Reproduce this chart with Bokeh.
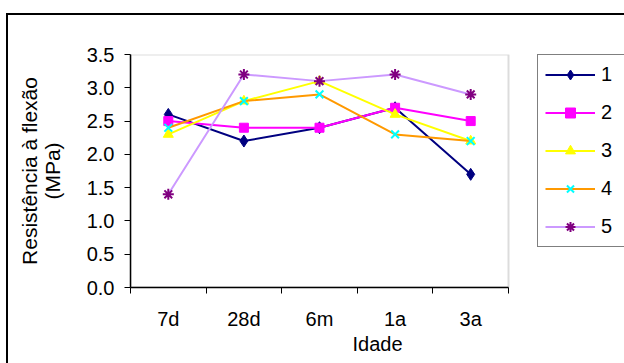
from bokeh.plotting import figure
from bokeh.models import (Range1d, FixedTicker, NumeralTickFormatter, Legend,
                          LegendItem, ColumnDataSource, BoxAnnotation)
from bokeh.embed import file_html
from bokeh.resources import INLINE

# ---- data ----
ages = ["7d", "28d", "6m", "1a", "3a"]
series_names = ["1", "2", "3", "4", "5"]
s1 = [2.6, 2.2, 2.4, 2.7, 1.7]
s2 = [2.5, 2.4, 2.4, 2.7, 2.5]
s3 = [2.3, 2.8, 3.1, 2.6, 2.2]
s4 = [2.4, 2.8, 2.9, 2.3, 2.2]
s5 = [1.4, 3.2, 3.1, 3.2, 2.9]
y_ticks = [0.0, 0.5, 1.0, 1.5, 2.0, 2.5, 3.0, 3.5]
y_max = 3.5

FONT = "Liberation Sans"
FS = "20px"

n = len(ages)
x_centers = [i + 0.5 for i in range(n)]
x_bounds = [float(i) for i in range(n + 1)]

# layout (pixels): plot area 130..508 wide, legend sits right of it
LEFT, TOP, BOTTOM, AREA_W, W, H = 130, 54, 76, 378, 624, 363
FW, FH = W - LEFT, H - TOP - BOTTOM
x_end = n * FW / AREA_W

p = figure(frame_width=FW, frame_height=FH, output_backend="svg",
           toolbar_location=None,
           x_range=Range1d(0, x_end), y_range=Range1d(0, y_max),
           min_border_left=LEFT, min_border_right=0,
           min_border_top=TOP, min_border_bottom=BOTTOM)
p.background_fill_color = "white"
p.border_fill_alpha = 0
p.outline_line_color = None
p.xgrid.visible = False
p.ygrid.visible = False
# outer chart-area border (top and left edges visible in the window)
p.styles = {
    "background": "linear-gradient(#000,#000) 6px 13px / 2px 100% no-repeat, "
                  "linear-gradient(#000,#000) 6px 13px / 100% 2px no-repeat, #fff",
}

# plot-area border (grey, Excel style)
area = BoxAnnotation(left=0, right=n, bottom=0, top=y_max, fill_alpha=0,
                     line_color="#8c8c8c", line_width=2, level="underlay")
p.add_layout(area)

# x axis: ticks at category boundaries, labels at centers
xa = p.xaxis[0]
xa.bounds = (0, n)
xa.ticker = FixedTicker(ticks=x_centers, minor_ticks=x_bounds)
xa.major_label_overrides = {c: a for c, a in zip(x_centers, ages)}
xa.major_tick_line_color = None
xa.major_tick_out = 0
xa.major_tick_in = 0
xa.minor_tick_line_color = "black"
xa.minor_tick_out = 6
xa.minor_tick_in = 0
xa.major_label_standoff = 14
xa.axis_label = "Idade"
xa.axis_label_standoff = 0

ya = p.yaxis[0]
ya.ticker = FixedTicker(ticks=y_ticks)
ya.formatter = NumeralTickFormatter(format="0.0")
ya.minor_tick_line_color = None
ya.major_tick_out = 6
ya.major_tick_in = 0
ya.major_label_standoff = 10
ya.axis_label = "Resistência à flexão\n(MPa)"
ya.axis_label_standoff = 20
ya.axis_label_text_line_height = 1.0

for ax in (xa, ya):
    ax.axis_line_color = "black"
    ax.axis_line_width = 1.5
    ax.major_tick_line_width = 1
    ax.minor_tick_line_width = 1
    ax.major_label_text_font = FONT
    ax.major_label_text_font_size = FS
    ax.major_label_text_color = "black"
    ax.axis_label_text_font = FONT
    ax.axis_label_text_font_size = FS
    ax.axis_label_text_font_style = "normal"
    ax.axis_label_text_color = "black"
ya.axis_label_text_font_size = "21px"

styles = [
    dict(line="#000080", marker="diamond", mfill="#000080", mline="#000080", size=12),
    dict(line="#FF00FF", marker="square", mfill="#FF00FF", mline="#FF00FF", size=9),
    dict(line="#FFFF00", marker="triangle", mfill="#FFFF00", mline="#FFFF00", size=10),
    dict(line="#FF9900", marker="x", mfill=None, mline="#00FFFF", size=11),
    dict(line="#CC99FF", marker="asterisk", mfill=None, mline="#800080", size=11),
]

items = []
for name, vals, st in zip(series_names, [s1, s2, s3, s4, s5], styles):
    src = ColumnDataSource(dict(x=x_centers, y=vals))
    lr = p.line("x", "y", source=src, line_color=st["line"], line_width=2)
    sr = p.scatter("x", "y", source=src, marker=st["marker"], size=st["size"],
                   fill_color=st["mfill"], line_color=st["mline"],
                   line_width=2 if st["mfill"] is None else 1)
    items.append(LegendItem(label=name, renderers=[lr, sr]))

legend = Legend(items=items, location=(407, 40))
legend.border_line_color = "black"
legend.border_line_width = 1
legend.background_fill_color = "white"
legend.background_fill_alpha = 1
legend.label_text_font = FONT
legend.label_text_font_size = FS
legend.label_text_color = "black"
legend.glyph_width = 50
legend.glyph_height = 25
legend.label_height = 20
legend.spacing = 13
legend.padding = 7
legend.label_standoff = 6
legend.margin = 0
p.add_layout(legend, "center")

open("out.html", "w").write(file_html(p, INLINE))
